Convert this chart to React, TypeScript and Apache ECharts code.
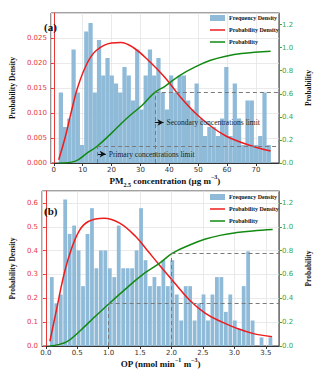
import { useEffect, useRef } from "react";
import * as echarts from "echarts";

// ---------- Panel (a): PM2.5 ----------
const binStartA = 1.7;
const binWidthA = 1.47;
const freqA = [
  0.0141, 0.0072, 0.0089, 0.0227, 0.0141, 0.0036, 0.0263, 0.028, 0.0141, 0.0246,
  0.0175, 0.021, 0.0175, 0.0159, 0.0141, 0.0192, 0.0175, 0.0125, 0.0227, 0.0107,
  0.0175, 0.0227, 0.0175, 0.021, 0.0141, 0.0107, 0.0175, 0.0141, 0.0175, 0.0175,
  0.0125, 0.0107, 0.0159, 0.0089, 0.0054, 0.0072, 0.0072, 0.0054, 0.0089, 0.0192,
  0.0054, 0.0159, 0.0089, 0.0036, 0.0125, 0.0125, 0.0036, 0.0054, 0.0141, 0.0036,
];
const pdfAx = [1.7, 4.05, 6.2, 8.3, 11.5, 14.7, 20, 23.2, 27.5, 32.8, 38.5, 43.7, 49, 54.3, 59.6, 65, 70.3, 75.1];
const pdfAy = [0.00065, 0.0054, 0.0106, 0.0152, 0.0199, 0.0225, 0.024, 0.0241, 0.0231, 0.0205, 0.0171, 0.0133, 0.01, 0.0074, 0.0054, 0.0041, 0.0031, 0.0024];
const cdfAx = [1.7, 7.25, 11.5, 14.9, 20, 25.3, 30.7, 34.9, 38.5, 43.7, 49, 54.3, 59.6, 65, 75.1];
const cdfAy = [0.0, 0.014, 0.086, 0.143, 0.259, 0.388, 0.503, 0.61, 0.665, 0.76, 0.833, 0.89, 0.925, 0.948, 0.968];
const limitsA = [15, 35];
const limitProbA = [0.143, 0.61];
const arrowYA = [0.00178, 0.0081];
const limitLabelsA = ["Primary concentrations limit", "Secondary concentrations limit"];

// ---------- Panel (b): OP ----------
const binStartB = 0.06;
const binWidthB = 0.071;
const freqB = [
  0.289, 0.179, 0.216, 0.614, 0.47, 0.505, 0.401, 0.251, 0.47, 0.578,
  0.326, 0.401, 0.401, 0.326, 0.289, 0.505, 0.326, 0.326, 0.326, 0.401,
  0.578, 0.36, 0.251, 0.289, 0.251, 0.36, 0.251, 0.36, 0.216, 0.107,
  0.251, 0.251, 0.107, 0.179, 0.216, 0.107, 0.216, 0.289, 0.289, 0.143,
  0.216, 0.107, 0.071, 0.251, 0.397, 0.107, 0, 0.036, 0, 0.036,
];
const pdfBx = [0.065, 0.175, 0.275, 0.375, 0.525, 0.676, 0.926, 1.176, 1.43, 1.63, 1.8, 2.01, 2.29, 2.54, 2.79, 3.04, 3.29, 3.6];
const pdfBy = [0.02, 0.158, 0.284, 0.381, 0.48, 0.522, 0.536, 0.515, 0.459, 0.396, 0.342, 0.277, 0.192, 0.137, 0.102, 0.074, 0.053, 0.039];
const cdfBx = [0.065, 0.33, 0.53, 0.78, 1.01, 1.28, 1.53, 1.8, 2.01, 2.29, 2.54, 2.79, 3.04, 3.29, 3.61];
const cdfBy = [0.0, 0.035, 0.12, 0.245, 0.357, 0.483, 0.595, 0.69, 0.777, 0.847, 0.897, 0.93, 0.951, 0.965, 0.977];
const limitsB = [1.0, 2.0];
const limitProbB = [0.357, 0.777];

const seriesNames = ["Frequency Density", "Probability Density", "Probability"];

const RED = "#ee1c1c";
const RED_LBL = "#e83838";
const GREEN = "#128a12";
const GREEN_AX = "#3aa53a";
const BLUE = "#8fbbd9";
const SERIF = "Liberation Serif";
const SANS = "DejaVu Sans";
const LINE_ICON = "path://M0,0 L20,0 L20,2 L0,2 Z";

const zip = (xs: number[], ys: number[]) => xs.map((x, i) => [x, ys[i]]);

export default function App() {
  const ref = useRef<HTMLDivElement>(null);
  useEffect(() => {
    if (!ref.current) return;
    const chart = echarts.init(ref.current, undefined, { renderer: "svg" });

    const xMinA = -1, xMaxA = 78;
    const xMinB = -0.06, xMaxB = 3.71;

    const dashStyle = { color: "#7a7a7a", width: 1, type: [4, 3] as any };
    const dashLines = (xs: number[], ps: number[], xMax: number) => {
      const out: any[] = [];
      xs.forEach((x, i) => {
        out.push([{ coord: [x, 0] }, { coord: [x, ps[i]] }]);
        out.push([{ coord: [x, ps[i]] }, { coord: [xMax, ps[i]] }]);
      });
      return out;
    };

    const titleRich = {
      b: { fontFamily: SERIF, fontWeight: "bold", fontSize: 9, color: "#111", lineHeight: 14 },
      sub: { fontFamily: SERIF, fontWeight: "bold", fontSize: 6, color: "#111", lineHeight: 8, verticalAlign: "bottom" },
      sup: { fontFamily: SERIF, fontWeight: "bold", fontSize: 6, color: "#111", lineHeight: 9, verticalAlign: "top" },
    };

    const xAxisCommon = (min: number, max: number, fmt: (v: number) => string, name: string) => ({
      type: "value",
      min,
      max,
      splitNumber: 8,
      name,
      nameLocation: "middle",
      nameGap: 7,
      nameTextStyle: { rich: titleRich },
      axisLine: { show: true, lineStyle: { color: "#333", width: 1 } },
      axisTick: { show: true, length: 3, lineStyle: { color: "#333" } },
      axisLabel: { fontFamily: SANS, fontSize: 7, color: "#333", margin: 3, showMinLabel: false, showMaxLabel: false, formatter: fmt },
      splitLine: { show: true, lineStyle: { color: "#e4e4e4", width: 0.8 } },
    });

    const leftAxis = (gridIndex: number, max: number, interval: number, fmt: (v: number) => string) => ({
      type: "value",
      gridIndex,
      min: 0,
      max,
      interval,
      name: "Probability Density",
      nameLocation: "middle",
      nameRotate: 90,
      nameGap: 25,
      nameTextStyle: { fontFamily: SERIF, fontWeight: "bold", fontSize: 7.5, color: "#111" },
      axisLine: { show: true, lineStyle: { color: RED_LBL, width: 1 } },
      axisTick: { show: true, length: 3, lineStyle: { color: RED_LBL } },
      axisLabel: { fontFamily: SANS, fontSize: 7, color: RED_LBL, margin: 4, showMaxLabel: false, formatter: fmt },
      splitLine: { show: true, lineStyle: { color: "#e4e4e4", width: 0.8 } },
    });

    const rightAxis = (gridIndex: number) => ({
      type: "value",
      gridIndex,
      position: "right",
      min: 0,
      max: 1.3,
      interval: 0.2,
      name: "Probability",
      nameLocation: "middle",
      nameRotate: 90,
      nameGap: 14,
      nameTextStyle: { fontFamily: SERIF, fontWeight: "bold", fontSize: 7.5, color: "#111" },
      axisLine: { show: true, lineStyle: { color: GREEN_AX, width: 1 } },
      axisTick: { show: true, length: 3, lineStyle: { color: GREEN_AX } },
      axisLabel: { fontFamily: SANS, fontSize: 7, color: GREEN_AX, margin: 3, showMaxLabel: false, formatter: (v: number) => v.toFixed(1) },
      splitLine: { show: false },
    });

    const legendCommon = {
      orient: "vertical",
      itemWidth: 15,
      itemHeight: 6,
      itemGap: 6,
      padding: 0,
      textStyle: { fontFamily: SERIF, fontWeight: "bold", fontSize: 6, color: "#111", padding: [0, 0, 0, -1] },
      data: [
        { name: seriesNames[0], icon: "rect" },
        { name: seriesNames[1], icon: LINE_ICON },
        { name: seriesNames[2], icon: LINE_ICON },
      ],
    };

    const arrowLines = limitsA.map((x, i) => [
      { coord: [x, arrowYA[i]] },
      { coord: [x + 3.0, arrowYA[i]], label: { formatter: limitLabelsA[i] } },
    ]);

    const option: any = {
      animation: false,
      title: [
        { text: "(a)", left: 44, top: 21, padding: 0, textStyle: { fontFamily: SERIF, fontWeight: "bold", fontSize: 11, color: "#111" } },
        { text: "(b)", left: 44, top: 205, padding: 0, textStyle: { fontFamily: SERIF, fontWeight: "bold", fontSize: 11, color: "#111" } },
      ],
      legend: [
        { ...legendCommon, left: 210, top: 15 },
        { ...legendCommon, left: 210, top: 194 },
      ],
      grid: [
        { left: 37, top: 13, width: 247, height: 150, show: true, borderColor: "#444", borderWidth: 1, backgroundColor: "transparent" },
        { left: 37, top: 191, width: 251, height: 155, show: true, borderColor: "#444", borderWidth: 1, backgroundColor: "transparent" },
      ],
      xAxis: [
        { ...xAxisCommon(xMinA, xMaxA, (v: number) => String(Math.round(v)), "{b|PM}{sub|2.5}{b| concentration (μg m}{sup|−3}{b|)}"), gridIndex: 0 },
        { ...xAxisCommon(xMinB, xMaxB, (v: number) => v.toFixed(1), "{b|OP (nmol min}{sup|−1}{b| m}{sup|−3}{b|)}"), gridIndex: 1 },
      ],
      yAxis: [
        leftAxis(0, 0.03, 0.005, (v: number) => v.toFixed(3)),
        rightAxis(0),
        leftAxis(1, 0.65, 0.1, (v: number) => v.toFixed(1)),
        rightAxis(1),
      ],
      series: [
        {
          name: seriesNames[0],
          type: "bar",
          xAxisIndex: 0,
          yAxisIndex: 0,
          barWidth: "100%",
          itemStyle: { color: BLUE },
          data: freqA.map((v, i) => [binStartA + binWidthA * (i + 0.5), v]),
          markLine: {
            silent: true,
            symbol: ["none", "arrow"],
            symbolSize: [5, 6],
            lineStyle: { color: "#111", width: 1, type: "solid" },
            label: { show: true, position: "end", distance: 3, fontFamily: SERIF, fontSize: 7.5, color: "#222" },
            data: arrowLines,
          },
        },
        {
          name: seriesNames[1],
          type: "line",
          xAxisIndex: 0,
          yAxisIndex: 0,
          smooth: 0.4,
          symbol: "none",
          lineStyle: { color: RED, width: 1.5 },
          itemStyle: { color: RED },
          data: zip(pdfAx, pdfAy),
        },
        {
          name: seriesNames[2],
          type: "line",
          xAxisIndex: 0,
          yAxisIndex: 1,
          smooth: 0.4,
          symbol: "none",
          lineStyle: { color: GREEN, width: 1.5 },
          itemStyle: { color: GREEN },
          data: zip(cdfAx, cdfAy),
          markLine: {
            silent: true,
            symbol: "none",
            lineStyle: dashStyle,
            label: { show: false },
            data: dashLines(limitsA, limitProbA, xMaxA),
          },
        },
        {
          name: seriesNames[0],
          type: "bar",
          xAxisIndex: 1,
          yAxisIndex: 2,
          barWidth: "85%",
          itemStyle: { color: BLUE },
          data: freqB.map((v, i) => [binStartB + binWidthB * (i + 0.5), v]),
        },
        {
          name: seriesNames[1],
          type: "line",
          xAxisIndex: 1,
          yAxisIndex: 2,
          smooth: 0.4,
          symbol: "none",
          lineStyle: { color: RED, width: 1.5 },
          itemStyle: { color: RED },
          data: zip(pdfBx, pdfBy),
        },
        {
          name: seriesNames[2],
          type: "line",
          xAxisIndex: 1,
          yAxisIndex: 3,
          smooth: 0.4,
          symbol: "none",
          lineStyle: { color: GREEN, width: 1.5 },
          itemStyle: { color: GREEN },
          data: zip(cdfBx, cdfBy),
          markLine: {
            silent: true,
            symbol: "none",
            lineStyle: dashStyle,
            label: { show: false },
            data: dashLines(limitsB, limitProbB, xMaxB),
          },
        },
      ],
    };
    chart.setOption(option);
    return () => chart.dispose();
  }, []);
  return <div ref={ref} style={{ position: "absolute", left: 0, top: 0, width: 320, height: 372 }} />;
}
